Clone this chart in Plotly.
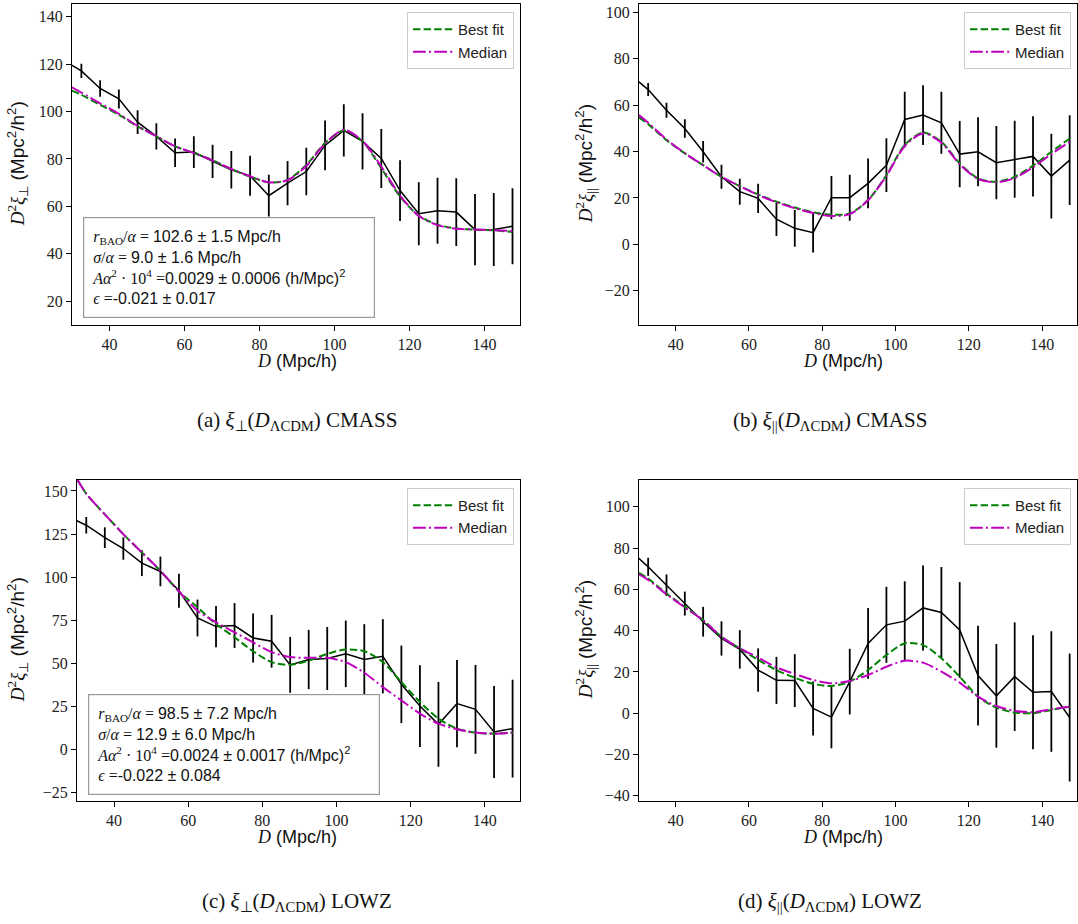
import plotly.graph_objects as go

# Separation bins (Mpc/h); first bin sits just left of the plotted range
D = [27.5, 32.5, 37.5, 42.5, 47.5, 52.5, 57.5, 62.5, 67.5, 72.5, 77.5, 82.5, 87.5,
     92.5, 97.5, 102.5, 107.5, 112.5, 117.5, 122.5, 127.5, 132.5, 137.5, 142.5, 147.5]
# Grid on which the model curves are evaluated
D_model = [30, 32.5, 37.5, 42.5, 47.5, 52.5, 57.5, 62.5, 67.5, 72.5, 77.5, 82.5, 87.5,
           92.5, 97.5, 102.5, 107.5, 112.5, 117.5, 122.5, 127.5, 132.5, 137.5, 142.5, 147.5]

# (a) xi_perp CMASS
cmass_perp = [121.7, 117.1, 109.7, 105.3, 95.5, 89.5, 82.6, 82.9, 79.0, 75.4, 72.9, 64.5, 69.8,
              74.7, 85.7, 92.0, 87.4, 80.2, 66.7, 56.9, 58.2, 57.6, 50.2, 50.3, 51.6]
cmass_perp_err = [2.5, 3.0, 3.5, 4.0, 5.0, 5.5, 6.0, 6.7, 7.0, 7.9, 8.4, 8.8, 9.3,
                  10.0, 10.5, 11.0, 11.9, 12.4, 12.8, 13.3, 13.9, 14.3, 15.0, 15.4, 16.0]
cmass_perp_best = [108.8, 107.0, 102.8, 98.6, 93.7, 89.5, 85.3, 82.5, 79.4, 75.7, 72.6, 70.1, 71.2,
                   77.5, 86.7, 92.0, 87.4, 76.1, 64.2, 56.1, 52.3, 50.7, 50.2, 49.9, 49.2]
cmass_perp_med = [110.2, 108.0, 103.4, 99.0, 93.9, 89.6, 85.3, 82.5, 79.4, 75.8, 72.7, 70.2, 71.0,
                  77.0, 86.5, 92.2, 87.6, 76.8, 64.6, 56.0, 52.1, 50.6, 50.3, 50.0, 49.6]

# (b) xi_parallel CMASS
cmass_par = [73.3, 66.7, 57.8, 49.9, 39.9, 29.1, 22.7, 19.8, 10.8, 6.9, 5.0, 20.1, 20.1,
             26.3, 34.1, 53.8, 55.7, 52.4, 38.9, 39.9, 35.2, 36.7, 37.9, 29.4, 36.3]
cmass_par_err = [2.5, 2.8, 3.2, 4.0, 4.6, 5.2, 5.6, 6.3, 7.2, 7.9, 8.5, 9.3, 9.9,
                 10.7, 11.6, 12.0, 12.9, 13.4, 14.3, 14.9, 15.8, 16.6, 17.3, 18.3, 19.3]
cmass_par_best = [54.7, 51.8, 44.9, 39.2, 34.1, 29.1, 25.1, 21.5, 18.4, 15.9, 13.8, 12.8, 13.3,
                  19.1, 29.8, 42.8, 48.2, 44.2, 34.9, 28.4, 27.0, 29.1, 33.9, 39.9, 45.6]
cmass_par_med = [55.7, 52.4, 45.2, 39.3, 34.1, 29.1, 25.1, 21.3, 18.1, 15.6, 13.5, 12.2, 13.0,
                 19.0, 29.5, 42.3, 47.8, 43.8, 34.5, 28.2, 26.7, 28.6, 33.2, 38.9, 44.2]

# (c) xi_perp LOWZ
lowz_perp = [135.1, 130.1, 122.9, 116.6, 108.1, 103.3, 92.1, 76.3, 71.3, 71.9, 64.7, 62.8, 49.1,
             52.2, 52.8, 55.5, 52.2, 54.1, 37.8, 25.2, 14.6, 26.6, 23.3, 10.2, 12.1]
lowz_perp_err = [4.0, 4.8, 6.0, 6.5, 7.5, 8.6, 9.8, 10.7, 12.0, 13.0, 14.2, 15.3, 16.2,
                 17.2, 18.3, 19.3, 20.5, 21.5, 22.5, 23.7, 24.6, 25.3, 25.8, 26.7, 28.4]
lowz_perp_best = [157.0, 148.4, 136.4, 124.9, 114.3, 103.7, 91.7, 82.5, 72.8, 65.1, 57.0, 50.7, 49.1,
                  51.6, 55.5, 58.0, 57.0, 50.7, 39.1, 27.6, 17.9, 12.1, 9.8, 9.2, 9.8]
lowz_perp_med = [157.0, 148.4, 136.4, 124.9, 114.3, 103.7, 91.7, 80.5, 73.8, 68.0, 62.2, 56.5, 53.6,
                 53.2, 53.2, 50.7, 44.5, 36.2, 28.5, 20.8, 15.0, 11.8, 9.8, 9.2, 9.8]

# (d) xi_parallel LOWZ
lowz_par = [78.9, 70.9, 62.0, 53.1, 44.3, 36.2, 30.9, 20.9, 15.9, 15.8, 2.3, -1.9, 15.3,
            33.8, 42.8, 44.6, 51.0, 48.8, 40.3, 18.2, 8.4, 17.7, 10.1, 10.5, -2.1]
lowz_par_err = [4.0, 4.4, 5.2, 5.8, 7.2, 8.3, 9.3, 10.5, 11.4, 12.8, 13.1, 15.1, 15.9,
                17.1, 18.4, 19.3, 20.6, 22.0, 23.2, 24.2, 25.1, 26.3, 27.6, 29.2, 31.0]
lowz_par_best = [68.0, 65.2, 58.0, 51.5, 45.1, 37.0, 31.4, 25.8, 20.9, 17.2, 14.2, 13.2, 15.3,
                 20.9, 28.2, 33.8, 33.0, 26.6, 17.7, 8.0, 2.7, 0.3, 0.0, 1.6, 3.2]
lowz_par_med = [67.3, 64.6, 57.6, 51.2, 45.0, 37.0, 31.4, 27.0, 22.2, 19.0, 16.1, 14.5, 15.6,
                18.5, 22.5, 25.4, 24.5, 20.1, 14.8, 8.0, 3.5, 1.1, 0.5, 1.9, 3.2]

fit_texts = {
    "a": ("102.6 ± 1.5", "9.0 ± 1.6", "0.0029 ± 0.0006", "-0.021 ± 0.017"),
    "c": ("98.5 ± 7.2", "12.9 ± 6.0", "0.0024 ± 0.0017", "-0.022 ± 0.084"),
}

W, H = 1078, 924
SERIF = "Liberation Serif"
SANS = "Liberation Sans"
GREEN = "#008000"
MAGENTA = "#bf00bf"


def px_x(p):
    return p / W


def px_y(p):
    return 1 - p / H


panels = [
    # key, axis suffix, data, err, best, median, x-domain px, y-domain px, yrange, dtick, legend
    ("a", "", cmass_perp, cmass_perp_err, cmass_perp_best, cmass_perp_med,
     (72, 520), (4, 326), (10.2, 145.3), 20, "legend"),
    ("b", "2", cmass_par, cmass_par_err, cmass_par_best, cmass_par_med,
     (639, 1077), (4, 326), (-34.6, 103.6), 20, "legend2"),
    ("c", "3", lowz_perp, lowz_perp_err, lowz_perp_best, lowz_perp_med,
     (77, 520), (482, 804), (-29.6, 156.4), 25, "legend3"),
    ("d", "4", lowz_par, lowz_par_err, lowz_par_best, lowz_par_med,
     (639, 1077), (482, 804), (-42.3, 113.0), 20, "legend4"),
]

fig = go.Figure()
layout = dict(width=W, height=H, margin=dict(l=0, r=0, t=0, b=0),
              paper_bgcolor="white", plot_bgcolor="white", showlegend=True)
annotations = []

for key, s, data, err, best, med, xd, yd, yr, dt, leg in panels:
    xa, ya = "x" + s, "y" + s
    fig.add_trace(go.Scatter(
        x=D, y=data, mode="lines", xaxis=xa, yaxis=ya,
        line=dict(color="black", width=1.5), showlegend=False,
        error_y=dict(type="data", array=err, visible=True, thickness=1.8, width=0, color="black")))
    fig.add_trace(go.Scatter(
        x=D_model, y=best, mode="lines", name="Best fit", xaxis=xa, yaxis=ya, legend=leg,
        line=dict(color=GREEN, width=2, dash="7.4px,3.2px", shape="spline", smoothing=0.8)))
    fig.add_trace(go.Scatter(
        x=D_model, y=med, mode="lines", name="Median", xaxis=xa, yaxis=ya, legend=leg,
        line=dict(color=MAGENTA, width=2, dash="12.8px,3.2px,2px,3.2px", shape="spline", smoothing=0.8)))

    axis_common = dict(showline=True, linecolor="black", linewidth=1.2, mirror=True,
                       ticks="outside", ticklen=5, tickwidth=1, tickcolor="black",
                       showgrid=False, zeroline=False,
                       tickfont=dict(family=SERIF, size=16, color="#222"))
    layout["xaxis" + s] = dict(axis_common, domain=[px_x(xd[0]), px_x(xd[1])],
                               range=[30, 149.5], tickvals=[40, 60, 80, 100, 120, 140],
                               anchor=ya)
    layout["yaxis" + s] = dict(axis_common, domain=[px_y(yd[1]), px_y(yd[0])],
                               range=list(yr), dtick=dt, tick0=0, anchor=xa)

    layout[leg] = dict(x=px_x(xd[1] - 6), y=px_y(yd[0] + 8), xanchor="right", yanchor="top",
                       bgcolor="rgba(255,255,255,0.85)", bordercolor="#cccccc", borderwidth=1,
                       font=dict(family=SANS, size=15, color="#222"), itemwidth=40,
                       tracegroupgap=2)

    sub_sym = "<sub>⊥</sub>" if key in ("a", "c") else "<sub>||</sub>"
    # x-axis title
    annotations.append(dict(
        x=px_x(297 if key in ("a", "c") else 843), y=px_y(yd[1] + 37), xref="paper", yref="paper",
        showarrow=False, xanchor="center", yanchor="middle",
        text=f"<span style=\"font-family:'{SERIF}'\"><i>D</i></span> (Mpc/h)",
        font=dict(family=SANS, size=18, color="#111")))
    # y-axis title
    annotations.append(dict(
        x=px_x(17 if key in ("a", "c") else 585), y=px_y((yd[0] + yd[1]) / 2), xref="paper",
        yref="paper", showarrow=False, textangle=-90, xanchor="center", yanchor="middle",
        text=(f"<span style=\"font-family:'{SERIF}'\"><i>D</i><sup>2</sup><i>ξ</i>{sub_sym}</span>"
              " (Mpc<sup>2</sup>/h<sup>2</sup>)"),
        font=dict(family=SANS, size=19, color="#111")))
    # subfigure caption
    survey = "CMASS" if key in ("a", "b") else "LOWZ"
    annotations.append(dict(
        x=px_x(297 if key in ("a", "c") else 830), y=px_y(423 if key in ("a", "b") else 906),
        xref="paper", yref="paper", showarrow=False, xanchor="center", yanchor="middle",
        text=(f"({key}) <i>ξ</i>{sub_sym}(<i>D</i><sub>ΛCDM</sub>) {survey}"),
        font=dict(family=SERIF, size=21, color="#111")))

# parameter boxes
for key, (bx, by) in {"a": (83, 218), "c": (88, 697)}.items():
    r, sg, amp, eps = fit_texts[key]
    ser = f"font-family:'{SERIF}'"
    lines = [
        f"<span style=\"{ser}\"><i>r</i><sub>BAO</sub>/<i>α</i> = </span>{r} Mpc/h",
        f"<span style=\"{ser}\"><i>σ</i>/<i>α</i> = </span>{sg} Mpc/h",
        f"<span style=\"{ser}\"><i>Aα</i><sup>2</sup> · 10<sup>4</sup> =</span>{amp} (h/Mpc)<sup>2</sup>",
        f"<span style=\"{ser}\"><i>ϵ</i> =</span>{eps}",
    ]
    annotations.append(dict(
        x=px_x(bx), y=px_y(by), xref="paper", yref="paper", showarrow=False,
        xanchor="left", yanchor="top", align="left", valign="middle",
        width=274, height=83, borderpad=8, bordercolor="#999999", borderwidth=1.2,
        bgcolor="white", text="<br>".join(lines),
        font=dict(family=SANS, size=16, color="#111")))

layout["annotations"] = annotations
fig.update_layout(**layout)
fig.write_html("out.html")
